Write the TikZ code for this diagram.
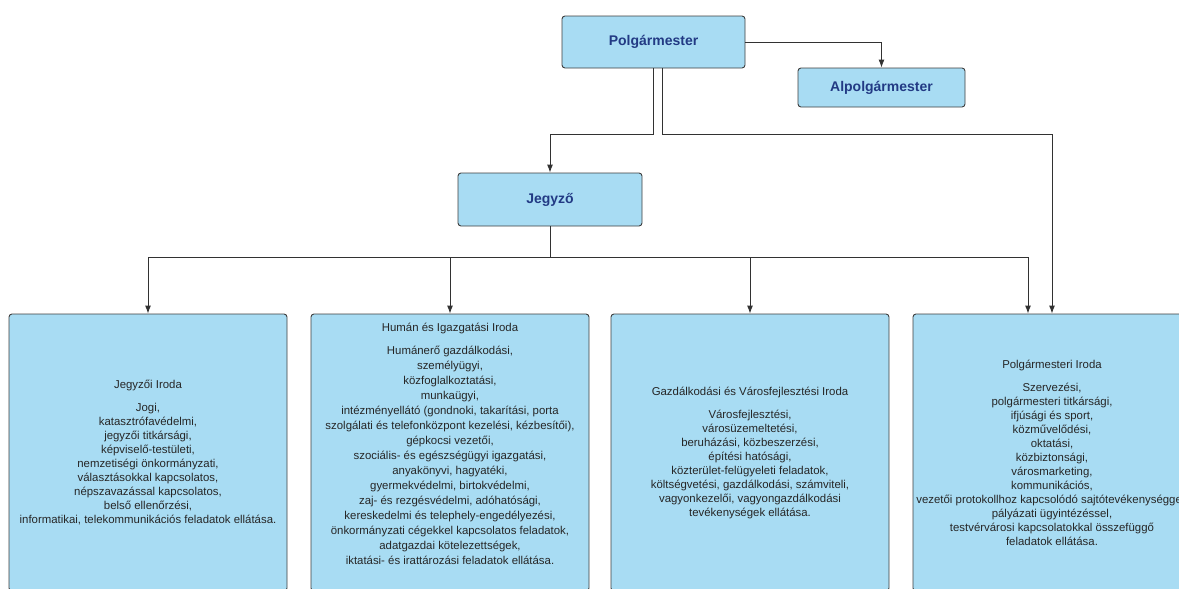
\documentclass[tikz,border=0pt]{standalone}
\usepackage{fontspec}
\setmainfont{Liberation Sans}
\usepackage{xcolor}
\usepackage{tikz}
\usetikzlibrary{calc}
\usetikzlibrary{arrows.meta}
\usetikzlibrary{positioning}
\definecolor{boxblue}{RGB}{168,220,243}
\definecolor{boxedge}{RGB}{62,62,62}
\definecolor{headblue}{RGB}{34,58,132}
\definecolor{linegray}{RGB}{50,50,50}
\tikzset{>=latex}
\tikzstyle{unit} = [rectangle, rounded corners=3pt, draw=boxedge, fill=boxblue, line width=0.9pt]
\tikzstyle{head} = [unit, font=\fontsize{14}{16}\selectfont\bfseries, text=headblue]
\tikzstyle{office} = [unit, minimum width=278pt, minimum height=277pt, align=center, text=black!85, font=\fontsize{11.4}{14}\selectfont]
\tikzstyle{officetext} = [draw=none, align=center, text=black!85, font=\fontsize{11.4}{15}\selectfont]
\tikzstyle{conn} = [-{Latex[length=8pt, width=6pt]}, draw=linegray, line width=0.9pt]

\begin{document}
\begin{tikzpicture}[x=1pt, y=-1pt]
\useasboundingbox (0,0) rectangle (1179,589);
\clip (0,0) rectangle (1179,589);
\node [head, minimum width=183pt, minimum height=52pt] (P) at (653.5, 42) {Polgármester};
\node [head, minimum width=167pt, minimum height=39pt] (AP) at (881.5, 87.5) {Alpolgármester};
\node [head, minimum width=184pt, minimum height=53pt] (J) at (550, 199.5) {Jegyző};
\node [office] (I1) at (148, 452.5) {Jegyzői Iroda\\[9pt]
  Jogi,\\ katasztrófavédelmi,\\ jegyzői titkársági,\\ képviselő-testületi,\\
  nemzetiségi önkormányzati,\\ választásokkal kapcsolatos,\\ népszavazással kapcsolatos,\\
  belső ellenőrzési,\\ informatikai, telekommunikációs feladatok ellátása.};
\node [office] (I2) at (450, 452.5) {};
% text sits a little above the middle here
\node [officetext] (T2) at ([yshift=8.5pt]I2.center) {Humán és Igazgatási Iroda\\[8pt]
  Humánerő gazdálkodási,\\ személyügyi,\\ közfoglalkoztatási,\\ munkaügyi,\\
  intézményellátó (gondnoki, takarítási, porta\\ szolgálati és telefonközpont kezelési, kézbesítői),\\
  gépkocsi vezetői,\\ szociális- és egészségügyi igazgatási,\\ anyakönyvi, hagyatéki,\\
  gyermekvédelmi, birtokvédelmi,\\ zaj- és rezgésvédelmi, adóhatósági,\\
  kereskedelmi és telephely-engedélyezési,\\ önkormányzati cégekkel kapcsolatos feladatok,\\
  adatgazdai kötelezettségek,\\ iktatási- és irattározási feladatok ellátása.};
\node [office] (I3) at (750, 452.5) {Gazdálkodási és Városfejlesztési Iroda\\[9pt]
  Városfejlesztési,\\ városüzemeltetési,\\ beruházási, közbeszerzési,\\ építési hatósági,\\
  közterület-felügyeleti feladatok,\\ költségvetési, gazdálkodási, számviteli,\\
  vagyonkezelői, vagyongazdálkodási\\ tevékenységek ellátása.};
\node [office] (I4) at (1052, 452.5) {Polgármesteri Iroda\\[9pt]
  Szervezési,\\ polgármesteri titkársági,\\ ifjúsági és sport,\\ közművelődési,\\ oktatási,\\
  közbiztonsági,\\ városmarketing,\\ kommunikációs,\\
  \makebox[0pt][c]{vezetői protokollhoz kapcsolódó sajtótevékenységgel,}\\
  pályázati ügyintézéssel,\\ testvérvárosi kapcsolatokkal összefüggő\\ feladatok ellátása.};
\draw [conn] (P.east) -| (AP.north);
\draw [conn] (P.south) -- ++(0,66) -| (J.north);
\draw [conn] ([xshift=9pt]P.south) -- ++(0,66) -| (I4.north);
\draw [linegray, line width=0.9pt] (J.south) -- ++(0,31) coordinate (bus);
\foreach \t in {I1, I2, I3}
  \draw [conn] (bus) -| (\t.north);
\draw [conn] (bus) -| ([xshift=-24pt]I4.north);
\end{tikzpicture}
\end{document}
